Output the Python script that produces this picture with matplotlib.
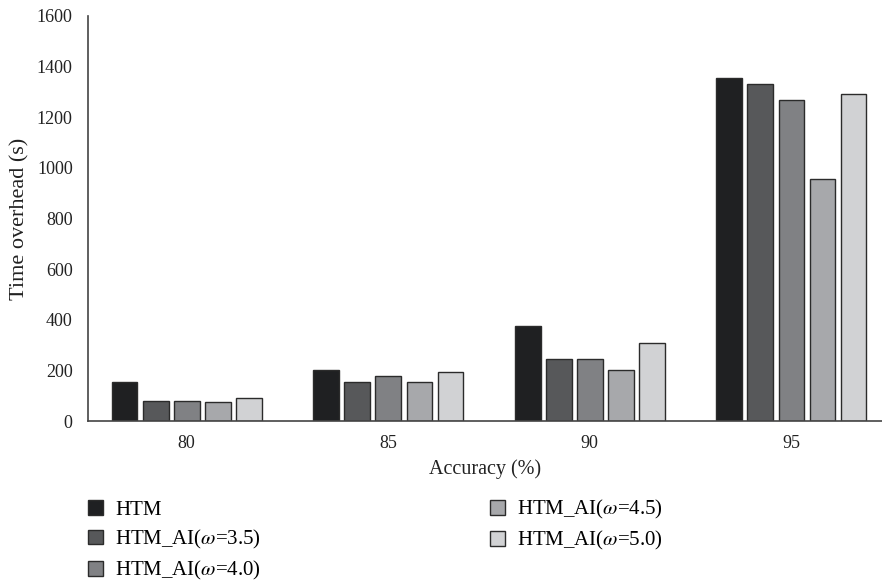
import numpy as np
import matplotlib
matplotlib.use('Agg')
import matplotlib.pyplot as plt

# ---- data ----
accuracy = ['80', '85', '90', '95']
series_names = ['HTM', r'HTM_AI($\omega$=3.5)', r'HTM_AI($\omega$=4.0)',
                r'HTM_AI($\omega$=4.5)', r'HTM_AI($\omega$=5.0)']
htm = [155, 203, 375, 1355]
htm_ai_35 = [80, 155, 245, 1330]
htm_ai_40 = [80, 177, 245, 1270]
htm_ai_45 = [75, 155, 203, 958]
htm_ai_50 = [92, 192, 310, 1290]

colors = ['#1f2022', '#57585a', '#808184', '#a7a8ab', '#d1d2d4']

plt.rcParams['font.family'] = ['Liberation Serif', 'DejaVu Serif']
plt.rcParams['mathtext.fontset'] = 'stix'

fig = plt.figure(figsize=(8.82, 5.82), dpi=100)
ax = fig.add_axes([88 / 882, (582 - 421) / 582, 1 - 88 / 882, (421 - 16) / 582])

x = np.arange(len(accuracy))
width = 0.127
step = 0.154
all_series = [htm, htm_ai_35, htm_ai_40, htm_ai_45, htm_ai_50]
for i, (vals, name, c) in enumerate(zip(all_series, series_names, colors)):
    ax.bar(x + (i - 2) * step, vals, width, color=c, edgecolor='#2b2b2b',
           linewidth=1.0, label=name)

ax.set_xlim(-0.49, 3.45)
ax.set_ylim(0, 1600)
ax.set_yticks(np.arange(0, 1601, 200))
ax.set_xticks(x)
ax.set_xticklabels(accuracy)

for s in ['top', 'right']:
    ax.spines[s].set_visible(False)
for s in ['left', 'bottom']:
    ax.spines[s].set_color('#444444')
    ax.spines[s].set_linewidth(1.2)

ax.tick_params(axis='both', length=0, labelsize=13, colors='#222222')
ax.tick_params(axis='y', pad=11)
ax.tick_params(axis='x', pad=10)

ax.set_xlabel('Accuracy (%)', fontsize=14.5, color='#222222', labelpad=5)
ax.set_ylabel('Time overhead (s)', fontsize=16, color='#222222', labelpad=5)

fig.legend(loc='upper left', bbox_to_anchor=(88 / 882, 1 - 498 / 582),
           ncol=2, frameon=False, fontsize=15, handlelength=0.7,
           handleheight=0.7, handletextpad=0.6, columnspacing=11,
           labelspacing=0.4, borderaxespad=0, borderpad=0)

fig.savefig('out.png', dpi=100)
